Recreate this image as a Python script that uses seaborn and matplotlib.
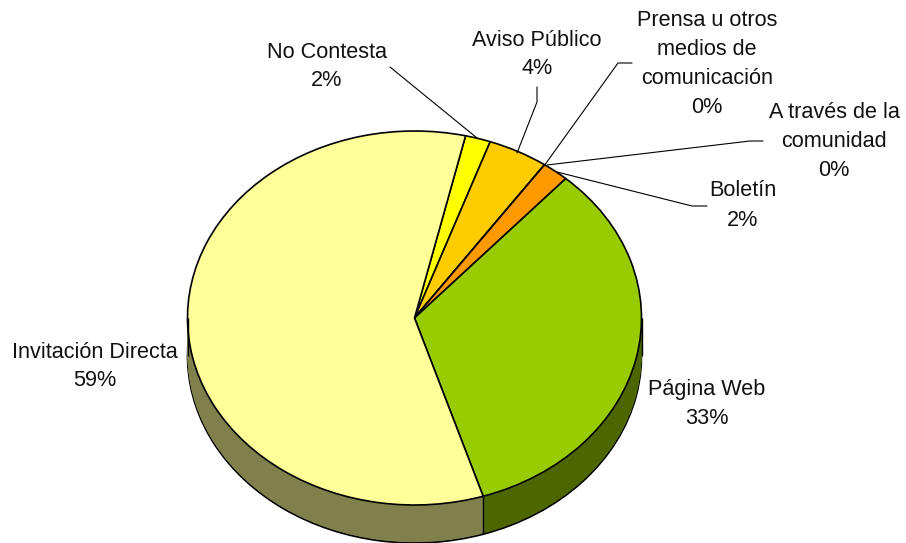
import numpy as np, matplotlib
matplotlib.use('Agg')
import matplotlib.pyplot as plt
from matplotlib.colors import to_rgb
import seaborn as sns

# ── Data ─────────────────────────────────────────────────────────────────────
categories = ['No Contesta', 'Aviso Público', 'Prensa u otros\nmedios de\ncomunicación',
              'A través de la\ncomunidad', 'Boletín', 'Página Web', 'Invitación Directa']
values = [1.8, 4.3, 0, 0, 1.9, 33.5, 58.5]   # slice sizes as measured on the picture
percent_labels = [2, 4, 0, 0, 2, 33, 59]     # as printed on the labels
slice_colors = ['#FFFF00', '#FFCC00', '#FFCC00', '#FF9900', '#FF9900', '#99CC00', '#FFFF99']

# ── Layout (pixels of the 906x543 image) ─────────────────────────────────────
W, H = 906, 543
CX, CY, RX, RY, DEPTH = 414.5, 318, 227, 187, 38
START = 77
label_pos = [(327, 66.5), (537, 54.5), (707, 64), (834, 141.5), (743, 205.5), (707, 404.5), (95, 366.5)]
leaders = [
    [(390, 67), (477, 138)],
    [(537, 87), (537, 102), (517, 153)],
    [(632, 63), (618, 63), (544, 166)],
    [(763, 141), (750, 141), (547, 165)],
    [(707, 206), (692, 206), (557, 172)],
]

sns.set_theme(style='white')
plt.rcParams['font.family'] = ['Liberation Sans', 'DejaVu Sans']

palette = sns.color_palette(slice_colors)
walls = [tuple(0.5 * c for c in to_rgb(col)) for col in palette]

fig = plt.figure(figsize=(W / 100, H / 100), dpi=100)
ax = fig.add_axes([0, 0, 1, 1])

def pie_at(colors, depth_px, edge=None):
    kw = dict(edgecolor=edge, linewidth=1.2) if edge else dict(linewidth=0)
    ax.pie(values, colors=colors, startangle=START, counterclock=False,
           center=(0, -depth_px / RY), radius=1, wedgeprops=kw)

# side wall: bottom outline, then the same pie stacked upwards
pie_at(walls, DEPTH, edge='black')
for d in range(DEPTH - 1, 0, -1):
    pie_at(walls, d)

# vertical edges of the wall
cum = START - np.cumsum(values) * 3.6
wall_angles = [0, 180, cum[5]]
for a in wall_angles:
    x = np.cos(np.radians(a))
    y = np.sin(np.radians(a))
    ax.plot([x, x], [y, y - DEPTH / RY], color='black', lw=1.0, solid_capstyle='butt')

pie_at(palette, 0, edge='black')

# stretch the circle to the ellipse of the tilted pie
ax.set_aspect('auto')
ax.set_xlim(-CX / RX, (W - CX) / RX)
ax.set_ylim((CY - H) / RY, CY / RY)
ax.axis('off')

def to_fig(p):
    return p[0] / W, 1 - p[1] / H

for pts in leaders:
    fp = [to_fig(p) for p in pts]
    fig.add_artist(plt.Line2D([q[0] for q in fp], [q[1] for q in fp], color='black', lw=0.8))

for name, v, p in zip(categories, percent_labels, label_pos):
    fx, fy = to_fig(p)
    fig.text(fx, fy, f'{name}\n{v}%', ha='center', va='center', ma='center',
             fontsize=15.6, color='#111111', linespacing=1.5)

plt.savefig('out.png', dpi=100)
plt.close()
